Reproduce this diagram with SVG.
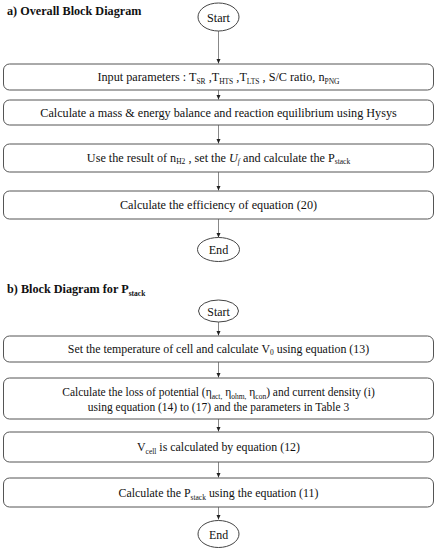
<svg xmlns="http://www.w3.org/2000/svg" width="437" height="550" viewBox="0 0 437 550">
<defs>
<marker id="ah" markerWidth="6" markerHeight="6" refX="5" refY="3" orient="auto" markerUnits="userSpaceOnUse">
<path d="M0,0.8 L5,3 L0,5.2 Z" fill="#222"/>
</marker>
<style>
.box{fill:#fff;stroke:#555;stroke-width:1}
.term{fill:#fff;stroke:#444;stroke-width:1}
.t{font-family:"Liberation Serif","Times New Roman",serif;font-size:12.2px;fill:#111;text-anchor:middle}
.tb{font-size:11.9px}
.tl{font-size:11.5px}
.s{font-size:7.5px}
.h{font-family:"Liberation Serif","Times New Roman",serif;font-size:12.2px;font-weight:bold;fill:#111}
.c{stroke:#888;stroke-width:1;fill:none;marker-end:url(#ah)}
</style>
</defs>
<rect width="437" height="550" fill="#fff"/>
<text class="h" x="7" y="15">a) Overall Block Diagram</text>
<text class="h" x="7" y="293">b) Block Diagram for P<tspan class="s" dy="3">stack</tspan></text>
<g id="connectors">
<line class="c" x1="218.5" y1="31" x2="218.5" y2="63.5"/>
<line class="c" x1="218.5" y1="90" x2="218.5" y2="99.5"/>
<line class="c" x1="218.5" y1="125" x2="218.5" y2="143.5"/>
<line class="c" x1="218.5" y1="172" x2="218.5" y2="190.5"/>
<line class="c" x1="218.5" y1="219" x2="218.5" y2="237.5"/>
<line class="c" x1="218.5" y1="322" x2="218.5" y2="335.5"/>
<line class="c" x1="218.5" y1="362" x2="218.5" y2="377.5"/>
<line class="c" x1="218.5" y1="419" x2="218.5" y2="431.5"/>
<line class="c" x1="218.5" y1="462" x2="218.5" y2="477.5"/>
<line class="c" x1="218.5" y1="507" x2="218.5" y2="519.5"/>
</g>
<g id="a_start"><ellipse class="term" cx="218.5" cy="17" rx="20.5" ry="14"/><text class="t" x="218.5" y="21.5">Start</text></g>
<g id="a_input"><rect class="box" x="3.5" y="64" width="430" height="26" rx="6"/>
<text class="t" x="218.5" y="81">Input parameters : T<tspan class="s" dy="2.5">SR</tspan><tspan dy="-2.5"> ,T</tspan><tspan class="s" dy="2.5">HTS</tspan><tspan dy="-2.5"> ,T</tspan><tspan class="s" dy="2.5">LTS</tspan><tspan dy="-2.5"> , S/C ratio, n</tspan><tspan class="s" dy="2.5">PNG</tspan></text></g>
<g id="a_hysys"><rect class="box" x="3.5" y="100" width="430" height="25" rx="6"/>
<text class="t" x="218.5" y="117">Calculate a mass &amp; energy balance and reaction equilibrium using Hysys</text></g>
<g id="a_pstack"><rect class="box" x="3.5" y="144" width="430" height="28" rx="6"/>
<text class="t" x="218.5" y="161.5">Use the result of n<tspan class="s" dy="2.5">H2</tspan><tspan dy="-2.5"> , set the </tspan><tspan font-style="italic">U</tspan><tspan class="s" font-style="italic" dy="2.5">f</tspan><tspan dy="-2.5"> and calculate the P</tspan><tspan class="s" dy="2.5">stack</tspan></text></g>
<g id="a_eff"><rect class="box" x="3.5" y="191" width="430" height="28" rx="6"/>
<text class="t" x="218.5" y="208.5">Calculate the efficiency of equation (20)</text></g>
<g id="a_end"><ellipse class="term" cx="218.5" cy="249.5" rx="21" ry="12"/><text class="t" x="218.5" y="254">End</text></g>
<g id="b_start"><ellipse class="term" cx="218.5" cy="311" rx="20" ry="11"/><text class="t tb" x="218.5" y="315.5">Start</text></g>
<g id="b_v0"><rect class="box" x="3.5" y="336" width="430" height="26" rx="6"/>
<text class="t tb" x="218.5" y="352.5">Set the temperature of cell and calculate V<tspan class="s" dy="2.5">0</tspan><tspan dy="-2.5"> using equation (13)</tspan></text></g>
<g id="b_loss"><rect class="box" x="3.5" y="378" width="430" height="41" rx="6"/>
<text class="t tl" x="218.5" y="396">Calculate the loss of potential (η<tspan class="s" dy="2.5">act,</tspan><tspan dy="-2.5"> η</tspan><tspan class="s" dy="2.5">ohm,</tspan><tspan dy="-2.5"> η</tspan><tspan class="s" dy="2.5">con</tspan><tspan dy="-2.5">) and current density (i)</tspan></text>
<text class="t tl" x="218.5" y="411">using equation (14) to (17) and the parameters in Table 3</text></g>
<g id="b_vcell"><rect class="box" x="3.5" y="432" width="430" height="30" rx="6"/>
<text class="t tb" x="218.5" y="451">V<tspan class="s" dy="2.5">cell</tspan><tspan dy="-2.5"> is calculated by equation (12)</tspan></text></g>
<g id="b_pstack"><rect class="box" x="3.5" y="478" width="430" height="29" rx="6"/>
<text class="t tb" x="218.5" y="497">Calculate the P<tspan class="s" dy="2.5">stack</tspan><tspan dy="-2.5"> using the equation (11)</tspan></text></g>
<g id="b_end"><ellipse class="term" cx="218.5" cy="534" rx="20.5" ry="13.5"/><text class="t tb" x="218.5" y="538.5">End</text></g>
</svg>
